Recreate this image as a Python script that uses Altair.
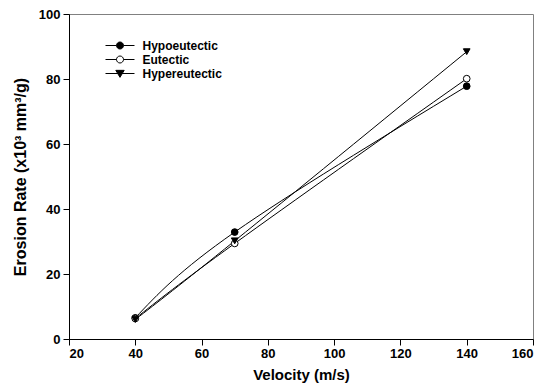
import altair as alt
import pandas as pd

velocity = [40, 70, 140]
alloys = ["Hypoeutectic", "Eutectic", "Hypereutectic"]
hypo = [6.5, 32.9, 77.8]
eut = [6.3, 29.4, 80.1]
hyper = [6.0, 30.2, 88.4]

rows = []
for name, vals in zip(alloys, [hypo, eut, hyper]):
    for v, r in zip(velocity, vals):
        rows.append({"velocity": v, "rate": r, "alloy": name})
df = pd.DataFrame(rows)

x_enc = alt.X("velocity:Q", scale=alt.Scale(domain=[20, 160], nice=False),
              axis=alt.Axis(values=[20, 40, 60, 80, 100, 120, 140, 160], title="Velocity (m/s)",
                            grid=False, tickSize=6, labelPadding=2, titlePadding=7))
y_enc = alt.Y("rate:Q", scale=alt.Scale(domain=[0, 100], nice=False),
              axis=alt.Axis(values=[0, 20, 40, 60, 80, 100], title="Erosion Rate (x10³ mm³/g)",
                            grid=False, tickSize=6, labelPadding=3, titlePadding=10, titleFontSize=16))

lines = alt.Chart(df).mark_line(interpolate="natural", color="black", strokeWidth=1).encode(
    x=x_enc, y=y_enc, detail="alloy:N"
)

points = alt.Chart(df).mark_point(filled=False, size=45, strokeWidth=1, opacity=1).encode(
    x="velocity:Q", y="rate:Q",
    shape=alt.Shape("alloy:N", scale=alt.Scale(domain=alloys, range=["circle", "circle", "triangle-down"]), legend=None),
    fill=alt.Fill("alloy:N", scale=alt.Scale(domain=alloys, range=["black", "white", "black"]), legend=None),
    stroke=alt.value("black"),
)

circ = "M-0.5,0A0.5,0.5 0 1,1 0.5,0A0.5,0.5 0 1,1 -0.5,0Z"
legend_paths = [
    "M-2.07,0H-0.5M0.5,0H2.07" + circ,
    "M-2.07,0H-0.5M0.5,0H2.07" + circ,
    "M-2.07,0H2.07M-0.6,-0.45L0.6,-0.45L0,0.55Z",
]
leg = alt.Legend(title=None, orient="none", legendX=43.5, legendY=24, symbolSize=196,
                 symbolStrokeColor="black", symbolStrokeWidth=1, symbolOpacity=1,
                 labelFont="Liberation Sans", labelFontWeight="bold", labelFontSize=12,
                 labelColor="black", labelOffset=15, rowPadding=0, padding=0)

legend_layer = alt.Chart(df).mark_point(filled=False, opacity=0).encode(
    x="velocity:Q", y="rate:Q",
    shape=alt.Shape("alloy:N", scale=alt.Scale(domain=alloys, range=legend_paths), legend=leg),
    fill=alt.Fill("alloy:N", scale=alt.Scale(domain=alloys, range=["black", "white", "black"]), legend=leg),
    stroke=alt.Stroke("alloy:N", scale=alt.Scale(domain=alloys, range=["black", "black", "black"]), legend=leg),
)

chart = alt.layer(lines, points, legend_layer).resolve_scale(
    shape="independent", fill="independent", stroke="independent"
).properties(
    width=464, height=325,
    autosize=alt.AutoSizeParams(type="none"),
    padding={"left": 61, "top": 6, "right": 3, "bottom": 45},
).configure_view(stroke="#808080", strokeWidth=1).configure_axis(
    labelFont="Liberation Sans", labelFontWeight="bold", labelFontSize=13, labelColor="black",
    titleFont="Liberation Sans", titleFontWeight="bold", titleFontSize=15, titleColor="black",
    domainColor="black", tickColor="black", domainWidth=1, tickWidth=1,
)

chart.save("out.html", embed_options={"renderer": "svg", "actions": False})
